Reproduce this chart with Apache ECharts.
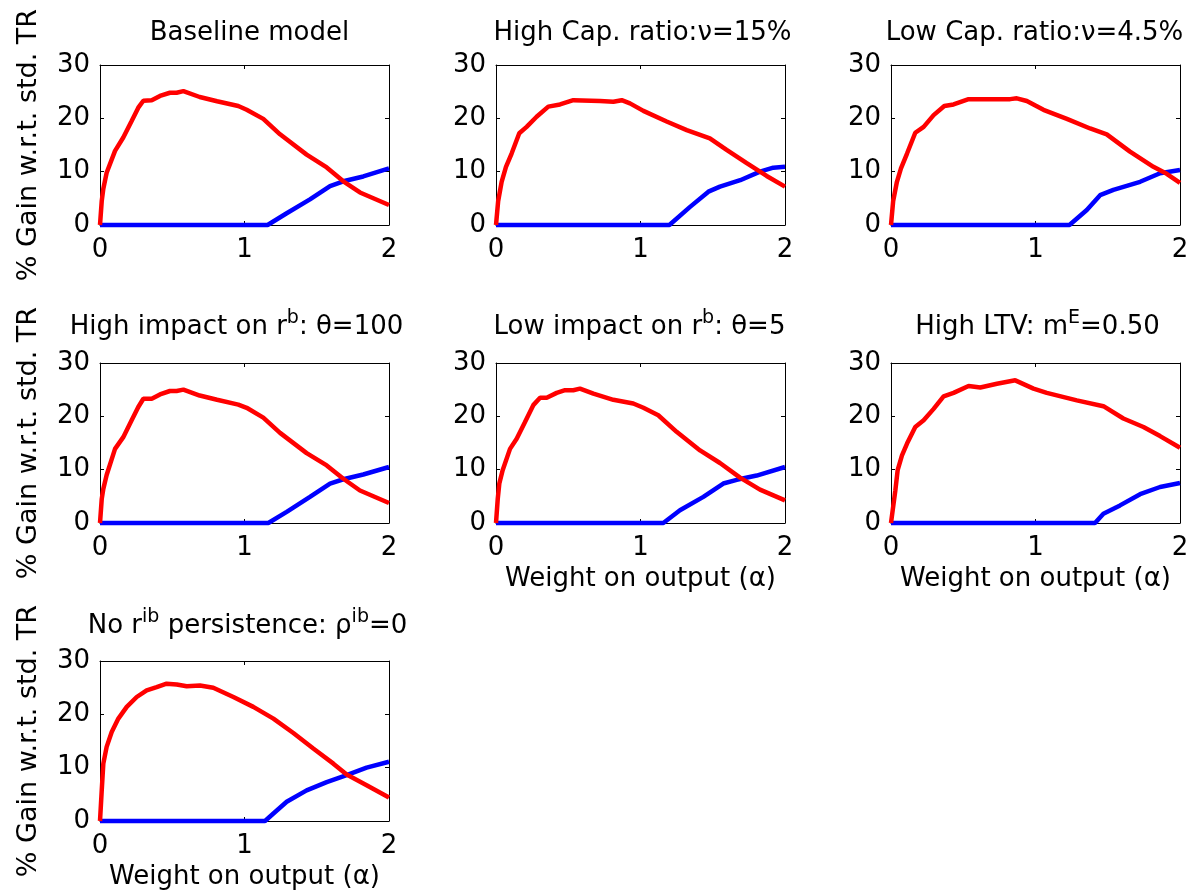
<!DOCTYPE html>
<html>
<head>
<meta charset="utf-8">
<script src="https://cdn.jsdelivr.net/npm/echarts@6/dist/echarts.min.js"></script>
<style>
html,body{margin:0;padding:0;background:#fff;}
#chart{width:1203px;height:896px;}
</style>
</head>
<body>
<div id="chart"></div>
<script>
// ---- tick labels / axis ranges ----
const alphaTicks = [0, 1, 2];
const gainTicks = [0, 10, 20, 30];
const yAxisTitle = '% Gain w.r.t. std. TR';
const xAxisTitle = 'Weight on output (\u03b1)';

// ---- panel titles (rich text: n = normal, s = superscript) ----
const panelTitles = [
  '{n|Baseline model}',
  '{n|High Cap. ratio:\u03bd=15%}',
  '{n|Low Cap. ratio:\u03bd=4.5%}',
  '{n|High impact on r}{s|b}{n|: \u03b8=100}',
  '{n|Low impact on r}{s|b}{n|: \u03b8=5}',
  '{n|High LTV: m}{s|E}{n|=0.50}',
  '{n|No r}{s|ib}{n| persistence: \u03c1}{s|ib}{n|=0}'
];

// ---- series values: [alpha, % gain] ----
// Baseline model
const redBaseline = [[0,0],[0.012,4.5],[0.023,6.8],[0.046,9.8],[0.104,13.9],[0.161,16.4],[0.219,19.5],[0.265,22.0],[0.30,23.3],[0.358,23.4],[0.415,24.2],[0.484,24.8],[0.53,24.8],[0.577,25.1],[0.69,24.0],[0.81,23.2],[0.957,22.3],[1.015,21.6],[1.13,19.9],[1.246,17.0],[1.43,13.2],[1.569,10.8],[1.684,8.2],[1.799,6.1],[2.0,3.75]];
const blueBaseline = [[0,0],[1.16,0],[1.292,2.2],[1.453,4.8],[1.592,7.3],[1.684,8.2],[1.822,9.1],[2.0,10.6]];
// High Cap. ratio
const redHighCap = [[0,0],[0.015,4.5],[0.039,8.1],[0.069,10.9],[0.108,13.4],[0.161,17.2],[0.212,18.4],[0.281,20.3],[0.362,22.2],[0.443,22.6],[0.535,23.4],[0.72,23.25],[0.812,23.1],[0.87,23.4],[0.927,22.8],[1.02,21.4],[1.181,19.4],[1.32,17.8],[1.48,16.25],[1.596,14.1],[1.735,11.6],[1.873,9.2],[2.0,7.2]];
const blueHighCap = [[0,0],[1.2,0],[1.343,3.4],[1.47,6.25],[1.55,7.2],[1.69,8.4],[1.827,10.0],[1.919,10.75],[2.0,10.9]];
// Low Cap. ratio
const redLowCap = [[0,0],[0.015,4.5],[0.041,8.1],[0.069,10.6],[0.111,13.4],[0.168,17.3],[0.226,18.4],[0.295,20.6],[0.369,22.3],[0.433,22.6],[0.537,23.6],[0.664,23.6],[0.825,23.6],[0.871,23.75],[0.94,23.25],[1.055,21.6],[1.217,19.9],[1.378,18.1],[1.493,17.0],[1.654,13.75],[1.816,10.9],[1.908,9.6],[2.0,7.9]];
const blueLowCap = [[0,0],[1.235,0],[1.355,2.8],[1.447,5.6],[1.539,6.6],[1.724,8.1],[1.862,9.7],[2.0,10.3]];
// High impact on r^b
const redHighImpact = [[0,0],[0.012,4.5],[0.023,6.4],[0.046,9.0],[0.104,13.9],[0.161,16.1],[0.219,19.25],[0.265,21.75],[0.30,23.3],[0.358,23.3],[0.415,24.1],[0.484,24.75],[0.53,24.75],[0.577,25.0],[0.69,23.9],[0.81,23.1],[0.957,22.2],[1.015,21.6],[1.13,19.75],[1.246,16.9],[1.43,13.1],[1.569,10.8],[1.684,8.3],[1.799,6.1],[2.0,3.75]];
const blueHighImpact = [[0,0],[1.165,0],[1.292,2.1],[1.453,4.9],[1.592,7.4],[1.684,8.2],[1.822,9.1],[2.0,10.5]];
// Low impact on r^b
const redLowImpact = [[0,0],[0.012,4.5],[0.023,7.4],[0.046,9.9],[0.097,13.9],[0.143,15.8],[0.2,18.9],[0.258,22.1],[0.305,23.5],[0.351,23.5],[0.42,24.4],[0.478,24.9],[0.535,24.9],[0.581,25.2],[0.674,24.25],[0.812,23.1],[0.95,22.4],[1.02,21.6],[1.123,20.2],[1.25,17.1],[1.412,13.6],[1.55,11.25],[1.689,8.5],[1.827,6.25],[2.0,4.25]];
const blueLowImpact = [[0,0],[1.158,0],[1.273,2.4],[1.435,4.9],[1.573,7.4],[1.666,8.1],[1.804,8.9],[2.0,10.5]];
// High LTV
const redHighLTV = [[0,0],[0.03,6.1],[0.046,9.9],[0.076,12.7],[0.111,14.9],[0.168,18.0],[0.226,19.25],[0.295,21.4],[0.364,23.75],[0.433,24.4],[0.537,25.7],[0.618,25.4],[0.733,26.1],[0.86,26.75],[0.986,25.2],[1.078,24.4],[1.286,23.0],[1.47,21.9],[1.608,19.6],[1.747,18.0],[1.862,16.3],[2.0,14.1]];
const blueHighLTV = [[0,0],[1.412,0],[1.47,1.75],[1.585,3.3],[1.724,5.4],[1.862,6.75],[2.0,7.5]];
// No r^ib persistence
const redNoPersist = [[0,0],[0.012,5.75],[0.023,10.75],[0.046,13.9],[0.081,16.7],[0.127,19.2],[0.185,21.4],[0.254,23.25],[0.323,24.5],[0.392,25.1],[0.461,25.75],[0.531,25.6],[0.6,25.25],[0.692,25.4],[0.784,25.0],[0.923,23.25],[1.061,21.4],[1.2,19.2],[1.338,16.5],[1.476,13.6],[1.615,10.75],[1.707,8.7],[1.845,6.7],[2.0,4.4]];
const blueNoPersist = [[0,0],[1.142,0],[1.2,1.4],[1.292,3.6],[1.43,5.75],[1.569,7.3],[1.707,8.6],[1.845,10.0],[2.0,11.1]];

const redSeries = [redBaseline, redHighCap, redLowCap, redHighImpact, redLowImpact, redHighLTV, redNoPersist];
const blueSeries = [blueBaseline, blueHighCap, blueLowCap, blueHighImpact, blueLowImpact, blueHighLTV, blueNoPersist];

// ---- layout (pixels) ----
const colLeft = [100, 496, 891];
const rowTop = [65, 363, 661];
const titleTop = [10, 304, 603];
const titleShift = [0, -3, -6, -13, -6, -3, -2];
const plotW = 289, plotH = 160;
const FONT = 'DejaVu Sans';
const showYName = [true, false, false, true, false, false, true];
const showXName = [false, false, false, false, true, true, true];

const grids = [], xAxes = [], yAxes = [], titles = [], series = [];
for (let i = 0; i < 7; i++) {
  const r = Math.floor(i / 3), c = i % 3;
  grids.push({left: colLeft[c], top: rowTop[r], width: plotW, height: plotH, containLabel: false});
  titles.push({
    text: panelTitles[i],
    left: colLeft[c] + plotW / 2 + titleShift[i],
    top: titleTop[r],
    textAlign: 'center',
    textStyle: {
      fontWeight: 'normal',
      rich: {
        n: {fontFamily: FONT, fontSize: 26, fontWeight: 'normal', color: '#000', lineHeight: 36},
        s: {fontFamily: FONT, fontSize: 19, fontWeight: 'normal', color: '#000', lineHeight: 21, verticalAlign: 'top'}
      }
    }
  });
  const common = {type: 'value', gridIndex: i, splitLine: {show: false}};
  xAxes.push(Object.assign({}, common, {
    position: 'bottom', min: alphaTicks[0], max: alphaTicks[alphaTicks.length - 1], interval: 1,
    axisLine: {onZero: false, lineStyle: {color: '#000', width: 1}},
    axisTick: {inside: true, length: 4, lineStyle: {color: '#000'}},
    axisLabel: {margin: 12, color: '#000', fontFamily: FONT, fontSize: 26},
    name: showXName[i] ? xAxisTitle : '', nameLocation: 'middle', nameGap: 43,
    nameTextStyle: {color: '#000', fontFamily: FONT, fontSize: 26}
  }));
  xAxes.push(Object.assign({}, common, {
    position: 'top', min: 0, max: 2, interval: 1,
    axisLine: {onZero: false, lineStyle: {color: '#000', width: 1}},
    axisTick: {inside: true, length: 4, lineStyle: {color: '#000'}},
    axisLabel: {show: false}
  }));
  yAxes.push(Object.assign({}, common, {
    position: 'left', min: gainTicks[0], max: gainTicks[gainTicks.length - 1], interval: 10,
    axisLine: {show: true, onZero: false, lineStyle: {color: '#000', width: 1}},
    axisTick: {show: true, inside: true, length: 4, lineStyle: {color: '#000'}},
    axisLabel: {margin: 10, color: '#000', fontFamily: FONT, fontSize: 26},
    name: showYName[i] ? yAxisTitle : '', nameLocation: 'middle', nameGap: 58,
    nameTextStyle: {color: '#000', fontFamily: FONT, fontSize: 27}
  }));
  yAxes.push(Object.assign({}, common, {
    position: 'right', min: 0, max: 30, interval: 10,
    axisLine: {show: true, onZero: false, lineStyle: {color: '#000', width: 1}},
    axisTick: {show: true, inside: true, length: 4, lineStyle: {color: '#000'}},
    axisLabel: {show: false}
  }));
  series.push({
    type: 'line', name: 'blue', xAxisIndex: 2 * i, yAxisIndex: 2 * i,
    data: blueSeries[i], showSymbol: false, clip: false, z: 3,
    lineStyle: {color: '#0000ff', width: 4.5}, itemStyle: {color: '#0000ff'}
  });
  series.push({
    type: 'line', name: 'red', xAxisIndex: 2 * i, yAxisIndex: 2 * i,
    data: redSeries[i], showSymbol: false, clip: false, z: 4,
    lineStyle: {color: '#ff0000', width: 4.5}, itemStyle: {color: '#ff0000'}
  });
}

const chart = echarts.init(document.getElementById('chart'), null, {renderer: 'canvas'});
chart.setOption({
  animation: false,
  backgroundColor: '#fff',
  title: titles,
  grid: grids,
  xAxis: xAxes,
  yAxis: yAxes,
  series: series
});
</script>
</body>
</html>
